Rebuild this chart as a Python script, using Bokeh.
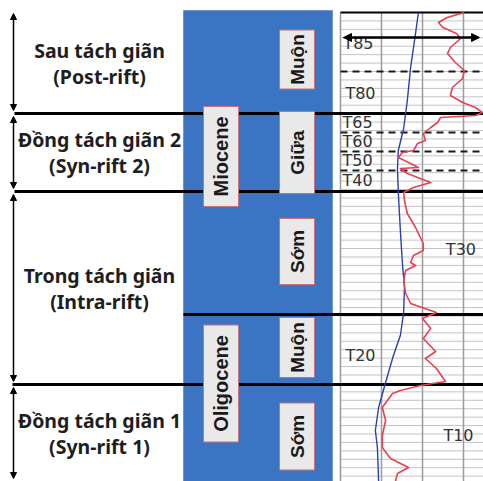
from math import pi
import numpy as np
from bokeh.plotting import figure
from bokeh.models import Range1d, Arrow, NormalHead
from bokeh.core.properties import value
from bokeh.embed import file_html
from bokeh.resources import INLINE

# ---------------- data ----------------
surface_depth = 12
base_depth = 481

tectonic_tops = [12, 113, 191, 384]
tectonic_bases = [113, 191, 384, 481]
tectonic_vi = ["Sau tách giãn", "Đồng tách giãn 2", "Trong tách giãn", "Đồng tách giãn 1"]
tectonic_en = ["(Post-rift)", "(Syn-rift 2)", "(Intra-rift)", "(Syn-rift 1)"]

epochs = ["Miocene", "Oligocene"]
epoch_tops = [12, 314]
epoch_bases = [314, 481]

subepochs = ["Muộn", "Giữa", "Sớm", "Muộn", "Sớm"]
sub_tops = [12, 113, 191, 314, 384]
sub_bases = [113, 191, 314, 384, 481]

horizons = ["T85", "T80", "T65", "T60", "T50", "T40", "T30", "T20", "T10"]
horizon_label_depth = [43, 93, 122, 141, 160, 180, 249, 355, 435]
dashed_horizon_depths = [71, 132, 151, 170]
arrow_depth = 37

gr_depth = [12, 17, 22, 27, 33, 38, 47, 53, 62, 70, 78, 87, 95, 102, 107, 112, 115, 117,
            122, 127, 133, 140, 143, 150, 152, 157, 163, 167, 168, 173, 182, 187,
            192, 200, 213, 227, 243, 250, 255, 262, 265, 270, 280, 293, 303, 312,
            318, 328, 338, 351, 358, 368, 381, 385, 390, 393, 407, 420, 435, 447,
            458, 467, 473, 481]
gr_value = [3.02, 2.60, 2.39, 2.50, 2.83, 2.93, 2.68, 2.61, 2.80, 3.02, 2.98, 2.73,
            2.68, 2.98, 3.29, 3.46, 3.30, 2.44,
            2.37, 2.20, 2.02, 2.07, 1.88, 1.78, 1.51, 1.41,
            1.71, 1.90, 1.46, 1.63, 2.20, 1.78, 1.54, 1.56, 1.63, 1.83, 2.02, 2.02,
            1.78, 1.71, 1.83, 1.59, 1.54, 1.59, 1.71, 2.34, 2.00, 2.20, 2.02, 2.32,
            2.07, 2.34, 2.56, 1.95, 1.46, 1.27, 1.02, 1.10, 1.02, 1.02, 1.22, 1.66,
            1.39, 1.34]

trend_depth = [12, 33, 67, 100, 128, 150, 168, 192, 230, 263, 287, 312, 335, 355,
               382, 407, 430, 447, 481]
trend_value = [1.90, 1.83, 1.71, 1.63, 1.54, 1.41, 1.39, 1.41, 1.46, 1.51, 1.56,
               1.54, 1.46, 1.29, 1.10, 0.93, 0.85, 0.90, 0.93]

track_grid_values = [0, 1, 2, 3]

# ---------------- layout / style ----------------
W, H = 483, 481
X0, X1, Y0, Y1 = 0, 483, 0, 481
COL_L, COL_R = 183, 332          # blue column
EPOCH_X, SUB_X, BOX_W = 220.5, 296.5, 35
epoch_box_center = [156, 383]
epoch_box_len = [100, 117]
sub_box_center = [59, 152, 251, 347, 436]
sub_box_len = [59, 82, 66, 60, 67]
TRACK_X0, TRACK_UNIT = 340, 41
horizon_label_track = [0.07, 0.12, 0.05, 0.05, 0.05, 0.05, 2.57, 0.12, 2.51]
BLUE = "#3a74c3"

p = figure(width=W, height=H, x_range=Range1d(X0, X1), y_range=Range1d(Y1, Y0),
           output_backend="svg", toolbar_location=None, min_border=0,
           outline_line_color=None)
p.axis.visible = False
p.grid.visible = False
p.extra_x_ranges = {"log": Range1d((X0 - TRACK_X0) / TRACK_UNIT, (X1 - TRACK_X0) / TRACK_UNIT)}

# blue stratigraphic column
p.quad(left=COL_L, right=COL_R, top=surface_depth - 2, bottom=base_depth + 5,
       fill_color=BLUE, line_color="#6b97d6", line_width=1)

# log track grid
gdep = np.arange(surface_depth, base_depth + 8, 8.43)
p.segment(x0=TRACK_X0, x1=490, y0=gdep, y1=gdep, line_color="#c4c4c4", line_width=1)
p.segment(x0=track_grid_values, x1=track_grid_values, y0=surface_depth, y1=base_depth + 5,
          x_range_name="log", line_color="#9a9a9a", line_width=1.5)
p.segment(x0=[TRACK_X0], x1=[490], y0=[surface_depth], y1=[surface_depth],
          line_color="black", line_width=2)

# thick boundary lines
p.segment(x0=[14, 14, 12], x1=[490] * 3, y0=tectonic_bases[:3], y1=tectonic_bases[:3],
          line_color="black", line_width=3)
p.segment(x0=[COL_L], x1=[490], y0=[epoch_bases[0]], y1=[epoch_bases[0]],
          line_color="black", line_width=3)

# dashed horizons
p.segment(x0=TRACK_X0, x1=490, y0=dashed_horizon_depths, y1=dashed_horizon_depths,
          line_color="#1a1a1a", line_width=2, line_dash="7 5")

# log curves
p.line(trend_value, trend_depth, x_range_name="log", line_color="#2c3fae", line_width=1.4)
p.line(gr_value, gr_depth, x_range_name="log", line_color="#e8414f", line_width=1.6,
       line_join="round")

# horizon labels
p.text(x=horizon_label_track, y=horizon_label_depth, text=horizons, x_range_name="log",
       text_font=value("DejaVu Sans"), text_font_size="16px", text_color="#333333",
       text_baseline="middle", text_align="left")

# T85 arrow
p.add_layout(Arrow(x_start=343, x_end=479, y_start=arrow_depth, y_end=arrow_depth,
                   line_color="black", line_width=2.5,
                   start=NormalHead(size=8, fill_color="black", line_color="black"),
                   end=NormalHead(size=8, fill_color="black", line_color="black")))

# label boxes
p.rect(x=[EPOCH_X] * 2, y=epoch_box_center, width=BOX_W, height=epoch_box_len,
       fill_color="#e9e9e9", line_color="#c9727a", line_width=1)
p.rect(x=[SUB_X] * 5, y=sub_box_center, width=BOX_W, height=sub_box_len,
       fill_color="#e9e9e9", line_color="#c9727a", line_width=1)
p.text(x=[EPOCH_X] * 2, y=epoch_box_center, text=epochs, angle=pi / 2,
       text_font=value("Liberation Sans"), text_font_style="bold", text_font_size="20px",
       text_color="#1a1a1a", text_align="center", text_baseline="middle")
p.text(x=[SUB_X] * 5, y=sub_box_center, text=subepochs, angle=pi / 2,
       text_font=value("Liberation Sans"), text_font_style="bold", text_font_size="19px",
       text_color="#1a1a1a", text_align="center", text_baseline="middle")

# tectonic stage brackets and labels
for t, b in zip(tectonic_tops, tectonic_bases):
    p.add_layout(Arrow(x_start=13, x_end=13, y_start=t + (1 if t == surface_depth else 3),
                       y_end=b - 3, line_color="black", line_width=1.5,
                       start=NormalHead(size=6, fill_color="black", line_color="black"),
                       end=NormalHead(size=6, fill_color="black", line_color="black")))
mids = [(t + b) / 2 for t, b in zip(tectonic_tops, tectonic_bases)]
p.text(x=[99] * 4, y=[m - 13 for m in mids], text=tectonic_vi,
       text_font=value("Noto Sans"), text_font_style="bold", text_font_size="19.5px",
       text_color="#1e1e1e", text_align="center", text_baseline="middle")
p.text(x=[99] * 4, y=[m + 13 for m in mids], text=tectonic_en,
       text_font=value("Noto Sans"), text_font_style="bold", text_font_size="19.5px",
       text_color="#1e1e1e", text_align="center", text_baseline="middle")

open("out.html", "w").write(file_html(p, INLINE))
